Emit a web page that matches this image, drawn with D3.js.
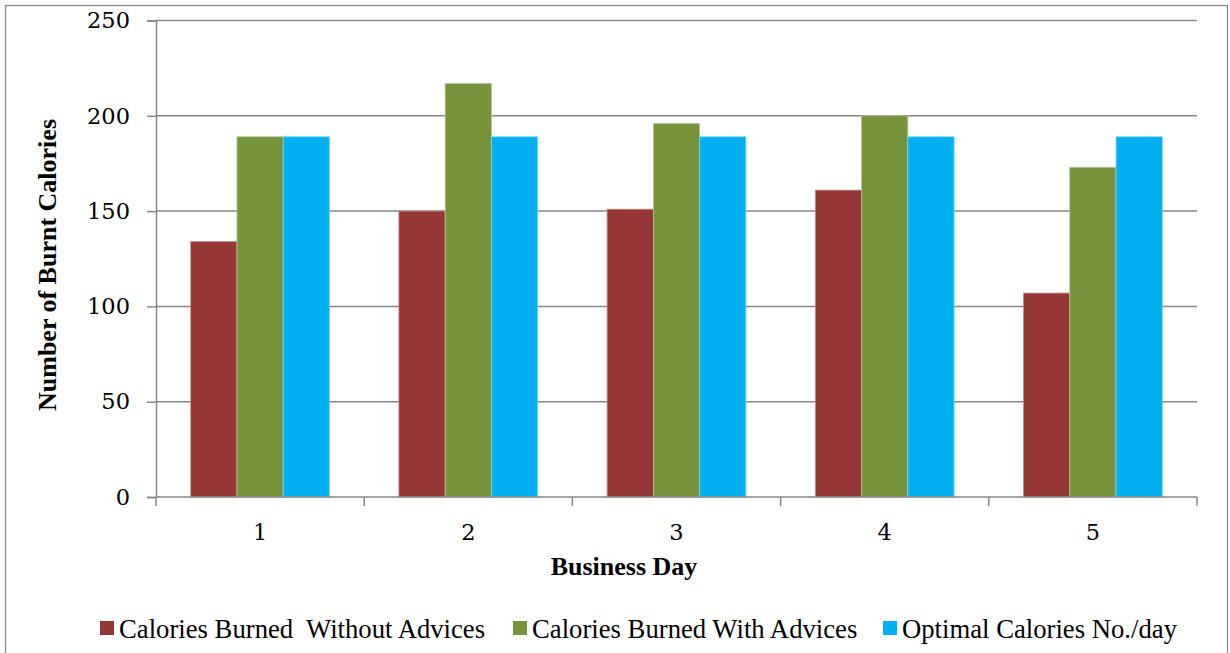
<!DOCTYPE html>
<html>
<head>
<meta charset="utf-8">
<script src="https://cdn.jsdelivr.net/npm/d3@7"></script>
<style>
  html, body { margin: 0; padding: 0; background: #fff; }
  svg { display: block; }
</style>
</head>
<body>
<svg id="chart" width="1230" height="653"></svg>
<script>
// Business days on the x axis
const days = ["1", "2", "3", "4", "5"];
// Series names shown in the legend
const seriesNames = [
  "Calories Burned  Without Advices",
  "Calories Burned With Advices",
  "Optimal Calories No./day"
];
// Burnt calories per day, one array per series
const withoutAdvices = [134, 150, 151, 161, 107];
const withAdvices = [189, 217, 196, 200, 173];
const optimalPerDay = [189, 189, 189, 189, 189];
// Y axis ticks
const yTicks = [0, 50, 100, 150, 200, 250];

const colors = ["#953735", "#77933C", "#00B0F0"];
const edgeColors = ["#c48a88", "#b4c79a", "#7fd6f6"];
const series = [withoutAdvices, withAdvices, optimalPerDay];

const svg = d3.select("#chart");
const m = { left: 156, right: 1197, top: 20.5, bottom: 497 };

// Outer chart frame
svg.append("rect")
  .attr("x", 5.5).attr("y", 5.5)
  .attr("width", 1222).attr("height", 660)
  .attr("fill", "#fff").attr("stroke", "#8c8c8c").attr("stroke-width", 1.3);

const x = d3.scaleBand().domain(days).range([m.left, m.right]).paddingInner(0).paddingOuter(0);
const y = d3.scaleLinear().domain([0, 250]).range([m.bottom, m.top]);

// Horizontal gridlines
svg.append("g").selectAll("line").data(yTicks.filter(d => d > 0)).join("line")
  .attr("x1", m.left).attr("x2", m.right)
  .attr("y1", d => y(d)).attr("y2", d => y(d))
  .attr("stroke", "#878787").attr("stroke-width", 1.5);

// Bars: three per day, with a gap of 1.5 bar widths between groups
const barW = x.bandwidth() / (series.length + 1.5);
const groupOffset = (x.bandwidth() - barW * series.length) / 2;
const inner = d3.scaleBand().domain(d3.range(series.length))
  .range([groupOffset, groupOffset + barW * series.length]);

series.forEach((vals, si) => {
  svg.append("g").selectAll("rect").data(vals).join("rect")
    .attr("x", (d, i) => x(days[i]) + inner(si))
    .attr("y", d => y(d))
    .attr("width", inner.bandwidth())
    .attr("height", d => y(0) - y(d))
    .attr("fill", colors[si])
    .attr("stroke", edgeColors[si])
    .attr("stroke-width", 0.8);
});

// Y axis
const yAxis = d3.axisLeft(y).tickValues(yTicks).tickSize(9).tickPadding(17);
const gy = svg.append("g").attr("transform", `translate(${m.left},0)`).call(yAxis);
gy.select(".domain").attr("stroke", "#878787").attr("stroke-width", 1.5);
gy.selectAll(".tick line").attr("stroke", "#878787").attr("stroke-width", 1.5);
gy.selectAll(".tick text")
  .attr("font-family", "'DejaVu Serif', serif")
  .attr("font-size", 22.5).attr("fill", "#000");

// X axis with tick marks at the group boundaries
const gx = svg.append("g").attr("transform", `translate(0,${m.bottom})`);
gx.append("line").attr("x1", m.left).attr("x2", m.right)
  .attr("stroke", "#878787").attr("stroke-width", 1.5);
const bounds = days.map(d => x(d)).concat([m.right]);
gx.selectAll("line.tk").data(bounds).join("line").attr("class", "tk")
  .attr("x1", d => d).attr("x2", d => d).attr("y1", 0).attr("y2", 9)
  .attr("stroke", "#878787").attr("stroke-width", 1.5);
gx.selectAll("text").data(days).join("text")
  .attr("x", d => x(d) + x.bandwidth() / 2)
  .attr("y", 43)
  .attr("text-anchor", "middle")
  .attr("font-family", "'DejaVu Serif', serif")
  .attr("font-size", 22.5).attr("fill", "#000")
  .text(d => d);

// Axis titles
svg.append("text")
  .attr("x", 624).attr("y", 575)
  .attr("text-anchor", "middle")
  .attr("font-family", "'Liberation Serif', 'Times New Roman', serif")
  .attr("font-weight", "bold").attr("font-size", 26)
  .text("Business Day");

svg.append("text")
  .attr("transform", "translate(56,265) rotate(-90)")
  .attr("text-anchor", "middle")
  .attr("font-family", "'Liberation Serif', 'Times New Roman', serif")
  .attr("font-weight", "bold").attr("font-size", 26)
  .text("Number of Burnt Calories");

// Legend
const legendX = [100, 513, 883];
const lg = svg.append("g");
seriesNames.forEach((name, i) => {
  lg.append("rect")
    .attr("x", legendX[i]).attr("y", 621)
    .attr("width", 14).attr("height", 14)
    .attr("fill", colors[i]);
  lg.append("text")
    .attr("x", legendX[i] + 19).attr("y", 637.5)
    .attr("font-family", "'Liberation Serif', 'Times New Roman', serif")
    .attr("font-size", 26.7).attr("fill", "#000")
    .attr("xml:space", "preserve")
    .style("white-space", "pre")
    .text(name);
});
</script>
</body>
</html>
